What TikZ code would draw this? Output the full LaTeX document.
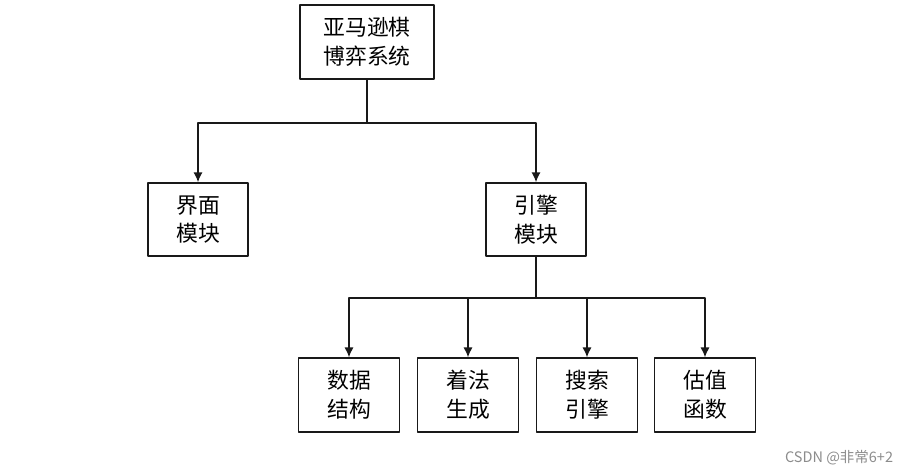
\documentclass[tikz,border=0pt]{standalone}
\usepackage{fontspec}
\usetikzlibrary{arrows.meta}
\newfontfamily\cjk{Noto Sans CJK SC}
\begin{document}
\begin{tikzpicture}[x=0.025cm,y=-0.025cm,>={Latex[length=7pt,width=6.5pt]},line cap=round,line join=round]
\colorlet{boxc}{black!90}
\colorlet{markc}{black!45}

\tikzset{
sysbox/.style={draw=boxc, line width=1pt, fill=white, minimum width=3.35cm, minimum height=1.85cm, align=center, font=\cjk\fontsize{15.5}{20.5}\selectfont},
modbox/.style={draw=boxc, line width=1pt, fill=white, minimum width=2.5cm, minimum height=1.83cm, align=center, font=\cjk\fontsize{15.5}{20.5}\selectfont},
subbox/.style={draw=boxc, line width=1pt, fill=white, minimum width=2.53cm, minimum height=1.85cm, align=center, font=\cjk\fontsize{15.5}{20.5}\selectfont},
link/.style={draw=boxc, line width=1pt}
}

\useasboundingbox (0,0) rectangle (913,475);

\node[sysbox] (sys) at (367,42) {亚马逊棋\\博弈系统};

\node[modbox] (ui) at (198,219.5) {界面\\模块};
\node[modbox] (engine) at (536,219.5) {引擎\\模块};

\node[subbox] (data) at (349,395) {数据\\结构};
\node[subbox] (movegen) at (468,395) {着法\\生成};
\node[subbox] (search) at (587,395) {搜索\\引擎};
\node[subbox] (eval) at (705,395) {估值\\函数};

\coordinate (bus1) at (367,123);
\coordinate (bus2) at (536,298);

\draw[link] (sys.south) -- (bus1);
\draw[link, ->] (bus1) -| (ui.north);
\draw[link, ->] (bus1) -| (engine.north);

\draw[link] (engine.south) -- (bus2);
\draw[link, ->] (bus2) -| (data.north);
\draw[link, ->] (bus2) -| (movegen.north);
\draw[link, ->] (bus2) -| (search.north);
\draw[link, ->] (bus2) -| (eval.north);

\node[anchor=east, text=markc, font=\cjk\fontsize{10.3}{12}\selectfont] (mark) at (898,458) {CSDN @非常6+2};
\end{tikzpicture}
\end{document}
